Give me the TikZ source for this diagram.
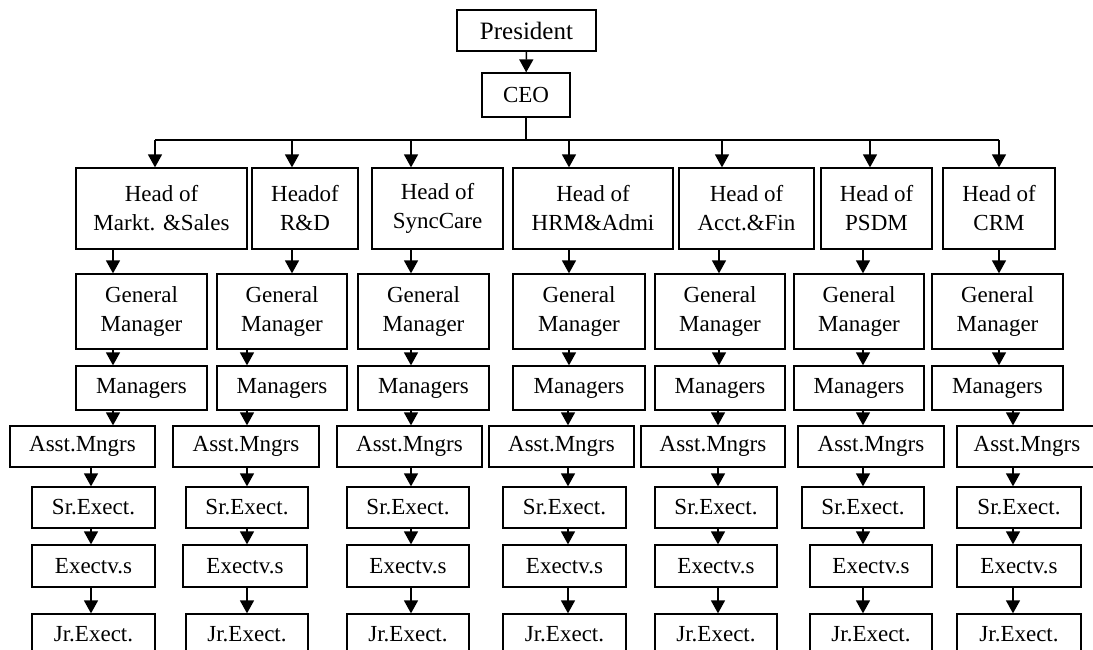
\documentclass[tikz,border=0pt]{standalone}
\usepackage{fontspec}
\setmainfont{Liberation Serif}
\usetikzlibrary{arrows.meta}
\newcommand\orgbox[6]{\node[box,minimum width={(#4)-(#2)},minimum height={(#5)-(#3)}] (#1) at ({((#2)+(#4))/2},{((#3)+(#5))/2}) {#6};}
\newcommand\orgarr[3]{\draw[arr] (perpendicular cs: horizontal line through={(#1.south)}, vertical line through={(#3,0)}) -- (perpendicular cs: horizontal line through={(#2.north)}, vertical line through={(#3,0)});}
\begin{document}
\begin{tikzpicture}[x=1pt,y=-1pt,
  box/.style={draw, line width=1.3pt, inner sep=0pt, align=center, font=\fontsize{23}{29}\selectfont},
  arr/.style={line width=1.5pt, -{Triangle[length=13pt,width=14pt]}},
  ln/.style={line width=1.5pt}]
\useasboundingbox (0,0) rectangle (1093,649);
% top
\orgbox{pres}{457}{10}{596}{51}{\fontsize{25}{30}\selectfont President}
\orgbox{ceo}{482}{73}{570}{117}{CEO}
% heads
\orgbox{h1}{76}{168}{247}{249}{Head of\\Markt. \&Sales}
\orgbox{h2}{252}{168}{358}{249}{Headof\\R\&D}
\orgbox{h3}{372}{168}{503}{249}{Head of\\SyncCare}
\orgbox{h4}{513}{168}{673}{249}{Head of\\HRM\&Admi}
\orgbox{h5}{679}{168}{814}{249}{Head of\\Acct.\&Fin}
\orgbox{h6}{821}{168}{932}{249}{Head of\\PSDM}
\orgbox{h7}{943}{168}{1055}{249}{Head of\\CRM}
% general managers
\orgbox{g1}{76}{274}{207}{349}{General\\Manager}
\orgbox{g2}{217}{274}{347}{349}{General\\Manager}
\orgbox{g3}{358}{274}{489}{349}{General\\Manager}
\orgbox{g4}{513}{274}{645}{349}{General\\Manager}
\orgbox{g5}{655}{274}{785}{349}{General\\Manager}
\orgbox{g6}{794}{274}{924}{349}{General\\Manager}
\orgbox{g7}{932}{274}{1063}{349}{General\\Manager}
% managers
\orgbox{m1}{76}{366}{207}{410}{Managers}
\orgbox{m2}{217}{366}{347}{410}{Managers}
\orgbox{m3}{358}{366}{489}{410}{Managers}
\orgbox{m4}{513}{366}{645}{410}{Managers}
\orgbox{m5}{655}{366}{785}{410}{Managers}
\orgbox{m6}{794}{366}{924}{410}{Managers}
\orgbox{m7}{932}{366}{1063}{410}{Managers}
% asst
\orgbox{a1}{10}{426}{155}{467}{Asst.Mngrs}
\orgbox{a2}{173}{426}{319}{467}{Asst.Mngrs}
\orgbox{a3}{337}{426}{482}{467}{Asst.Mngrs}
\orgbox{a4}{489}{426}{634}{467}{Asst.Mngrs}
\orgbox{a5}{641}{426}{785}{467}{Asst.Mngrs}
\orgbox{a6}{798}{426}{944}{467}{Asst.Mngrs}
\orgbox{a7}{957}{426}{1100}{467}{\hspace*{-3pt}Asst.Mngrs}
% sr
\orgbox{s1}{32}{487}{155}{528}{Sr.Exect.}
\orgbox{s2}{186}{487}{308}{528}{Sr.Exect.}
\orgbox{s3}{347}{487}{469}{528}{Sr.Exect.}
\orgbox{s4}{503}{487}{626}{528}{Sr.Exect.}
\orgbox{s5}{655}{487}{777}{528}{Sr.Exect.}
\orgbox{s6}{802}{487}{924}{528}{Sr.Exect.}
\orgbox{s7}{957}{487}{1081}{528}{Sr.Exect.}
% exec
\orgbox{e1}{32}{545}{155}{587}{Exectv.s}
\orgbox{e2}{183}{545}{307}{587}{Exectv.s}
\orgbox{e3}{347}{545}{469}{587}{Exectv.s}
\orgbox{e4}{503}{545}{626}{587}{Exectv.s}
\orgbox{e5}{655}{545}{777}{587}{Exectv.s}
\orgbox{e6}{810}{545}{932}{587}{Exectv.s}
\orgbox{e7}{957}{545}{1081}{587}{Exectv.s}
% jr
\orgbox{j1}{32}{614}{155}{655}{Jr.Exect.}
\orgbox{j2}{186}{614}{308}{655}{Jr.Exect.}
\orgbox{j3}{347}{614}{469}{655}{Jr.Exect.}
\orgbox{j4}{503}{614}{626}{655}{Jr.Exect.}
\orgbox{j5}{655}{614}{777}{655}{Jr.Exect.}
\orgbox{j6}{810}{614}{932}{655}{Jr.Exect.}
\orgbox{j7}{957}{614}{1081}{655}{Jr.Exect.}
% connectors
\draw[arr] (pres) -- (ceo);
\foreach \i/\x in {1/155,2/292,3/411,4/569,5/722,6/870,7/999}
  {\coordinate (b\i) at (\x,140);}
\draw[ln] (ceo.south) -- (ceo.south |- b1);
\draw[ln] (b1) -- (b7);
\foreach \i in {1,...,7}
  {\draw[arr] (b\i) -- (b\i |- h\i.north);}
\foreach \s/\t/\x in {h1/g1/113,h2/g2/292,h3/g3/411,h4/g4/569,h5/g5/719,h6/g6/863,h7/g7/999,
  g1/m1/113,g2/m2/247,g3/m3/411,g4/m4/569,g5/m5/719,g6/m6/863,g7/m7/999,
  m1/a1/113,m2/a2/247,m3/a3/411,m4/a4/568,m5/a5/718,m6/a6/863,m7/a7/1013,
  a1/s1/91,a2/s2/247,a3/s3/411,a4/s4/568,a5/s5/718,a6/s6/863,a7/s7/1013,
  s1/e1/91,s2/e2/247,s3/e3/411,s4/e4/568,s5/e5/718,s6/e6/863,s7/e7/1013,
  e1/j1/91,e2/j2/247,e3/j3/411,e4/j4/568,e5/j5/718,e6/j6/863,e7/j7/1013}
  {\orgarr{\s}{\t}{\x}}
\end{tikzpicture}
\end{document}
